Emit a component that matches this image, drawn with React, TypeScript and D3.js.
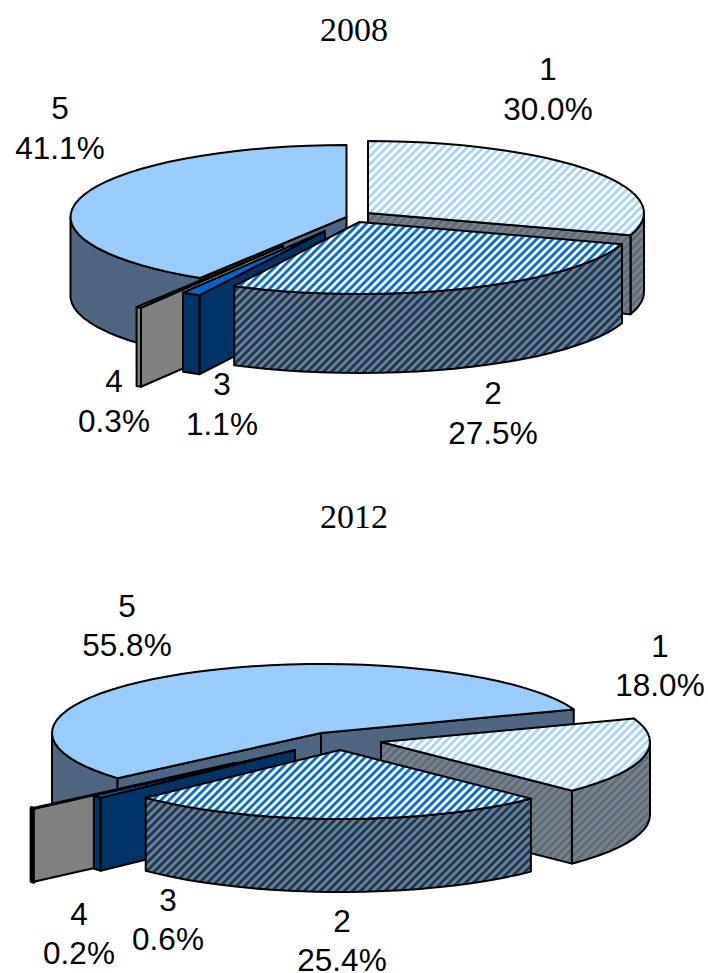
import React from "react";
import * as d3 from "d3";

const categories = ["1", "2", "3", "4", "5"];
const values2008 = [30.0, 27.5, 1.1, 0.3, 41.1];
const values2012 = [18.0, 25.4, 0.6, 0.2, 55.8];
const years = ["2008", "2012"];

// colours per slice: top stripe, top base, wall stripe, wall base
const topA = ["#a8d3ff", "#0a6ccf", "#0066cc", "#ffffff", "#99ccff"];
const topB = ["#ffffff", "#f4f9ff", "#0066cc", "#ffffff", "#99ccff"];
const wallA = ["#566c84", "#0f3a66", "#003366", "#808080", "#4f6683"];
const wallB = ["#808080", "#787d82", "#003366", "#808080", "#4f6683"];

const paintOrder = [4, 0, 3, 2, 1];

type Layout = {
  year: string;
  values: number[];
  rotationDeg: number;
  rx: number;
  ry: number;
  depth: number;
  apexX: d3.ScaleOrdinal<string, number>;
  apexY: d3.ScaleOrdinal<string, number>;
  titleY: number;
  labelX: number[];
  labelY: number[];
  labelGap: number;
};

const layouts: Layout[] = [
  {
    year: years[0],
    values: values2008,
    rotationDeg: 0,
    rx: 276,
    ry: 72,
    depth: 79,
    apexX: d3.scaleOrdinal<string, number>().domain(categories).range([368, 359.5, 325, 283, 346.5]),
    apexY: d3.scaleOrdinal<string, number>().domain(categories).range([213, 222, 231, 246, 217]),
    titleY: 41,
    labelX: [548, 493, 222, 114, 60],
    labelY: [80, 404, 395, 392, 119],
    labelGap: 40,
  },
  {
    year: years[1],
    values: values2012,
    rotationDeg: 70,
    rx: 269,
    ry: 69,
    depth: 73,
    apexX: d3.scaleOrdinal<string, number>().domain(categories).range([381, 340, 295, 235, 321]),
    apexY: d3.scaleOrdinal<string, number>().domain(categories).range([742, 750, 750, 763, 733]),
    titleY: 528,
    labelX: [660, 342, 168, 79, 127],
    labelY: [657, 932, 911, 925, 617],
    labelGap: 39,
  },
];

const line = d3.line<[number, number]>();
const STEP = (4 * Math.PI) / 180;

function arcAngles(a0: number, a1: number): number[] {
  const out: number[] = d3.range(a0, a1, STEP);
  out.push(a1);
  return out;
}

function Pie({ l }: { l: Layout }) {
  const arcs = d3
    .pie<number>()
    .sort(null)
    .startAngle((l.rotationDeg * Math.PI) / 180)
    .endAngle((l.rotationDeg * Math.PI) / 180 + 2 * Math.PI)(l.values);

  const outline = { stroke: "#000", strokeWidth: 2, strokeLinejoin: "round" as const };

  return (
    <g>
      <text x={354} y={l.titleY} textAnchor="middle" fontFamily="Liberation Serif" fontSize={34}>
        {l.year}
      </text>
      {paintOrder.map((i) => {
        const key = categories[i];
        const ax = l.apexX(key);
        const ay = l.apexY(key);
        const p = (a: number): [number, number] => [ax + l.rx * Math.sin(a), ay - l.ry * Math.cos(a)];
        const down = ([x, y]: [number, number]): [number, number] => [x, y + l.depth];
        const { startAngle: a0, endAngle: a1 } = arcs[i];
        const top = arcAngles(a0, a1).map(p);
        const wall = `url(#w${i})`;
        const faces: [number, number][][] = [];
        if (Math.sin(a0) < -1e-6) faces.push([[ax, ay], p(a0), down(p(a0)), down([ax, ay])]);
        if (Math.sin(a1) > 1e-6) faces.push([[ax, ay], p(a1), down(p(a1)), down([ax, ay])]);
        // outer wall: the part of the rim that faces the viewer
        const lo = Math.max(a0, Math.PI / 2);
        const hi = Math.min(a1, (3 * Math.PI) / 2);
        const rim = lo < hi ? arcAngles(lo, hi).map(p) : [];
        const rimExtent = rim.length ? Math.abs(rim[0][0] - rim[rim.length - 1][0]) : 0;
        return (
          <g key={key}>
            {rim.length > 0 && (
              <path
                d={line([...rim, ...rim.slice().reverse().map(down)]) + "Z"}
                fill={wall}
                {...outline}
                strokeWidth={rimExtent < 3 ? 4 : 2}
              />
            )}
            {faces.map((f, k) => (
              <path key={k} d={line(f) + "Z"} fill={wall} {...outline} />
            ))}
            <path d={line([[ax, ay], ...top]) + "Z"} fill={`url(#t${i})`} {...outline} />
          </g>
        );
      })}
      {categories.map((c, i) => (
        <text key={c} textAnchor="middle" fontFamily="Liberation Sans" fontSize={31.5} fill="#000">
          <tspan x={l.labelX[i]} y={l.labelY[i]}>{c}</tspan>
          <tspan x={l.labelX[i]} y={l.labelY[i] + l.labelGap}>{d3.format(".1f")(l.values[i])}%</tspan>
        </text>
      ))}
    </g>
  );
}

function Stripe({ id, a, b }: { id: string; a: string; b: string }) {
  return (
    <pattern id={id} width={5.7} height={5.7} patternUnits="userSpaceOnUse" patternTransform="rotate(45)">
      <rect width={5.7} height={5.7} fill={b} />
      <rect width={2.85} height={5.7} fill={a} />
    </pattern>
  );
}

export default function App() {
  return (
    <svg
      width={708}
      height={973}
      viewBox="0 0 708 973"
      style={{ position: "absolute", left: 0, top: 0, background: "#fff" }}
    >
      <defs>
        {categories.map((_, i) => (
          <React.Fragment key={i}>
            <Stripe id={`t${i}`} a={topA[i]} b={topB[i]} />
            <Stripe id={`w${i}`} a={wallA[i]} b={wallB[i]} />
          </React.Fragment>
        ))}
      </defs>
      {layouts.map((l) => (
        <Pie key={l.year} l={l} />
      ))}
    </svg>
  );
}
